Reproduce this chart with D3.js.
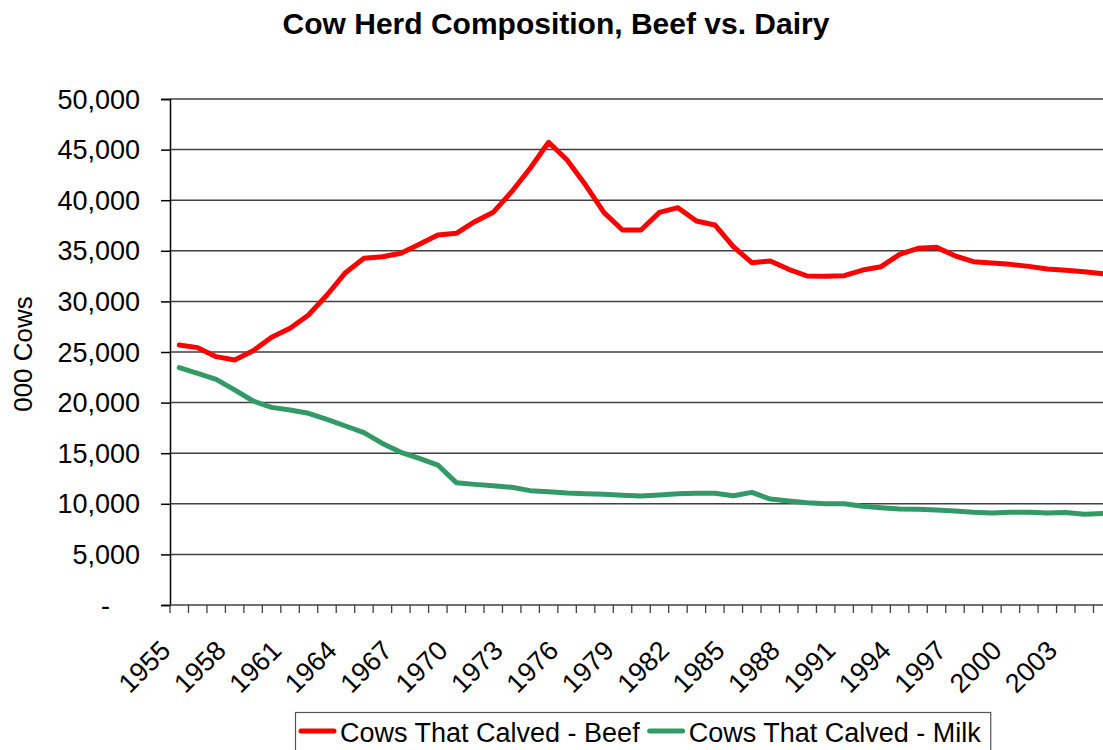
<!DOCTYPE html>
<html>
<head>
<meta charset="utf-8">
<script src="https://cdn.jsdelivr.net/npm/d3@7"></script>
<style>
  html, body { margin: 0; padding: 0; background: #fff; }
  svg { display: block; font-family: Arial, "Liberation Sans", sans-serif; }
</style>
</head>
<body>
<svg id="chart" width="1103" height="750"></svg>
<script>
// Cows that calved, thousands of head, 1955-2005
const years = d3.range(1955, 2006);
const beef = [
  25690, 25430, 24540, 24210, 25130, 26450, 27340, 28660, 30630, 32840,
  34260, 34420, 34750, 35640, 36560, 36730, 37880, 38800, 40840, 43150,
  45720, 43970, 41500, 38770, 37060, 37060, 38800, 39260, 37940, 37550,
  35410, 33830, 33990, 33170, 32510, 32480, 32540, 33100, 33430, 34650,
  35250, 35340, 34510, 33920, 33790, 33660, 33460, 33200, 33070, 32940,
  32740
];
const milk = [
  23450, 22890, 22300, 21250, 20160, 19530, 19270, 18940, 18350, 17690,
  17030, 15970, 15090, 14490, 13830, 12090, 11920, 11790, 11630, 11300,
  11200, 11070, 11000, 10940, 10840, 10770, 10870, 11000, 11040, 11040,
  10800, 11130, 10470, 10280, 10110, 10010, 10010,  9750,  9620,  9490,
   9450,  9390,  9290,  9160,  9090,  9160,  9160,  9090,  9130,  8960,
   9030
];
const yTicks = [0, 5000, 10000, 15000, 20000, 25000, 30000, 35000, 40000, 45000, 50000];
const xLabelYears = d3.range(1955, 2006, 3);
const seriesNames = ["Cows That Calved - Beef", "Cows That Calved - Milk"];
const seriesColors = ["#ff0000", "#339966"];

const svg = d3.select("#chart");
const plotLeft = 170, plotTop = 99, plotBottom = 605;
const catWidth = 18.47;
const fontSize = 27;

const x = d3.scaleBand()
  .domain(years)
  .range([plotLeft, plotLeft + years.length * catWidth])
  .paddingInner(0).paddingOuter(0);
const y = d3.scaleLinear().domain([0, 50000]).range([plotBottom, plotTop]);
const cx = d => x(d) + x.bandwidth() / 2;

// Title
svg.append("text")
  .attr("x", 556).attr("y", 34)
  .attr("text-anchor", "middle")
  .attr("font-weight", "bold")
  .attr("font-size", 30)
  .text("Cow Herd Composition, Beef vs. Dairy");

// Horizontal gridlines
svg.append("g")
  .selectAll("line")
  .data(yTicks.filter(d => d > 0))
  .join("line")
  .attr("x1", plotLeft).attr("x2", x.range()[1])
  .attr("y1", d => y(d)).attr("y2", d => y(d))
  .attr("stroke", "#404040").attr("stroke-width", 1.5);

// Y axis
const yAxis = d3.axisLeft(y).tickValues(yTicks).tickSize(9).tickFormat("");
const gy = svg.append("g").attr("transform", `translate(${plotLeft},0)`).call(yAxis);
gy.select(".domain").attr("stroke", "#000").attr("stroke-width", 1.5);
gy.selectAll(".tick line").attr("stroke", "#000").attr("stroke-width", 1.5);

svg.append("g")
  .selectAll("text")
  .data(yTicks)
  .join("text")
  .attr("x", d => d === 0 ? 110 : 140)
  .attr("y", d => y(d) + 9.5)
  .attr("text-anchor", "end")
  .attr("font-size", fontSize)
  .text(d => d === 0 ? "-" : d3.format(",")(d));

// Y axis title
svg.append("text")
  .attr("transform", "translate(32,354) rotate(-90)")
  .attr("text-anchor", "middle")
  .attr("font-size", 26)
  .text("000 Cows");

// X axis line and tick marks at category boundaries
const boundaries = years.map(d => x(d)).concat([x.range()[1]]);
svg.append("line")
  .attr("x1", plotLeft).attr("x2", x.range()[1])
  .attr("y1", plotBottom).attr("y2", plotBottom)
  .attr("stroke", "#404040").attr("stroke-width", 1.5);
svg.append("g")
  .selectAll("line")
  .data(boundaries)
  .join("line")
  .attr("x1", d => d).attr("x2", d => d)
  .attr("y1", plotBottom).attr("y2", plotBottom + 8)
  .attr("stroke", "#404040").attr("stroke-width", 1.3);

// X labels, rotated
svg.append("g")
  .selectAll("text")
  .data(xLabelYears)
  .join("text")
  .attr("transform", d => `translate(${cx(d) - 7},652) rotate(-45)`)
  .attr("text-anchor", "end")
  .attr("font-size", fontSize)
  .text(d => d);

// Series lines
const line = d3.line().x((d, i) => cx(years[i])).y(d => y(d));
[beef, milk].forEach((vals, i) => {
  svg.append("path")
    .datum(vals)
    .attr("d", line)
    .attr("fill", "none")
    .attr("stroke", seriesColors[i])
    .attr("stroke-width", 5)
    .attr("stroke-linejoin", "round")
    .attr("stroke-linecap", "round");
});

// Legend
const legend = svg.append("g");
const box = legend.append("rect")
  .attr("x", 295.5).attr("y", 712.5)
  .attr("height", 60)
  .attr("fill", "#fff").attr("stroke", "#555").attr("stroke-width", 1.2);
let lx = 301;
seriesNames.forEach((name, i) => {
  legend.append("line")
    .attr("x1", lx).attr("x2", lx + 33)
    .attr("y1", 731).attr("y2", 731)
    .attr("stroke", seriesColors[i]).attr("stroke-width", 5)
    .attr("stroke-linecap", "round");
  const t = legend.append("text")
    .attr("x", lx + 39).attr("y", 742)
    .attr("font-size", fontSize)
    .text(name);
  lx = lx + 39 + t.node().getComputedTextLength() + 10;
});
box.attr("width", lx - 295.5);
</script>
</body>
</html>
